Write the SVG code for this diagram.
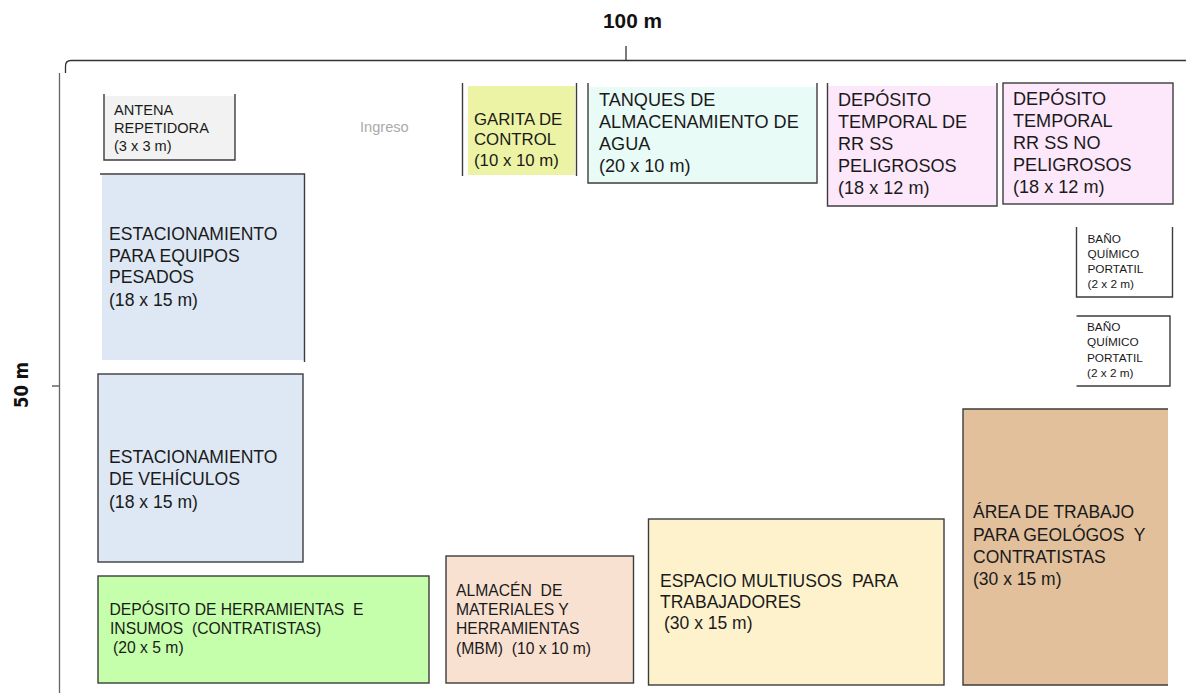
<svg xmlns="http://www.w3.org/2000/svg" width="1186" height="693" viewBox="0 0 1186 693">
<style>
text{font-family:"Liberation Sans",Arial,sans-serif;fill:#1a1a1a;white-space:pre}
.b{fill:none;stroke:#3c3c3c;stroke-width:1.4}
.xl{font-size:18.1px}
.l{font-size:17.6px}
.k{font-size:17.5px}
.m{font-size:15.7px}
.s{font-size:14.6px}
.t{font-size:11.8px}
.dim{fill:none;stroke:#333;stroke-width:1.3}
</style>
<rect width="1186" height="693" fill="#fff"/>
<g id="connectors">
<path class="dim" d="M65.5 73V66Q65.500 60.500 71 60.500H1186"/>
<path class="dim" d="M626 46V60"/>
<path class="dim" style="stroke:#666" d="M59.500 73V693M52 386H59"/>
</g>
<g id="dim-100"><text x="603" y="28" style="font-weight:bold;font-size:20px;fill:#111" textLength="59" lengthAdjust="spacingAndGlyphs">100 m</text></g>
<g id="dim-50"><text transform="translate(28 408) rotate(-90)" style="font-family:'DejaVu Sans',sans-serif;font-weight:bold;font-size:20px;fill:#111" textLength="46" lengthAdjust="spacingAndGlyphs">50 m</text></g>
<g id="antena">
<rect x="104" y="96" width="131" height="64" fill="#f2f2f2"/>
<path class="b" d="M104 94V160H235V94"/>
<text class="s"><tspan x="114" y="115">ANTENA</tspan><tspan x="114" y="133">REPETIDORA</tspan><tspan x="114" y="151">(3 x 3 m)</tspan></text>
</g>
<g id="ingreso"><text class="s" x="360" y="132" style="fill:#aaa">Ingreso</text></g>
<g id="garita">
<rect x="468" y="86" width="107" height="89" fill="#edf3a4"/>
<path class="b" d="M462.500 83V176M576.500 83V176"/>
<text style="font-size:16.800px"><tspan x="474" y="125">GARITA DE</tspan><tspan x="474" y="145">CONTROL</tspan><tspan x="474" y="166">(10 x 10 m)</tspan></text>
</g>
<g id="tanques">
<rect x="589" y="87" width="227" height="95" fill="#e8fbf6"/>
<path class="b" d="M588 83V183H817V83"/>
<text class="xl"><tspan x="599" y="106">TANQUES DE</tspan><tspan x="599" y="128">ALMACENAMIENTO DE</tspan><tspan x="599" y="150">AGUA</tspan><tspan x="599" y="172">(20 x 10 m)</tspan></text>
</g>
<g id="deposito-peligrosos">
<rect x="828" y="86" width="168" height="119" fill="#fde7fb"/>
<path class="b" d="M827.500 83V206H997V83"/>
<text class="xl"><tspan x="838" y="106">DEPÓSITO</tspan><tspan x="838" y="128">TEMPORAL DE</tspan><tspan x="838" y="150">RR SS</tspan><tspan x="838" y="172">PELIGROSOS</tspan><tspan x="838" y="194">(18 x 12 m)</tspan></text>
</g>
<g id="deposito-no-peligrosos">
<rect x="1003" y="83" width="170" height="121" class="b" style="fill:#fde7fb"/>
<text class="xl"><tspan x="1013" y="105">DEPÓSITO</tspan><tspan x="1013" y="127">TEMPORAL</tspan><tspan x="1013" y="149">RR SS NO</tspan><tspan x="1013" y="171">PELIGROSOS</tspan><tspan x="1013" y="193">(18 x 12 m)</tspan></text>
</g>
<g id="bano-1">
<path class="b" d="M1076.500 227V297H1172.500V227"/>
<text class="t"><tspan x="1087.500" y="243">BAÑO</tspan><tspan x="1087.500" y="258">QUÍMICO</tspan><tspan x="1087.500" y="273">PORTATIL</tspan><tspan x="1087.500" y="288">(2 x 2 m)</tspan></text>
</g>
<g id="bano-2">
<path class="b" d="M1076.500 316H1170V386H1076.500"/>
<text class="t"><tspan x="1087" y="331">BAÑO</tspan><tspan x="1087" y="346">QUÍMICO</tspan><tspan x="1087" y="362">PORTATIL</tspan><tspan x="1087" y="377">(2 x 2 m)</tspan></text>
</g>
<g id="estacionamiento-equipos">
<rect x="102" y="175" width="202" height="185" fill="#dde8f4"/>
<path class="b" d="M100 174H304.500V362"/>
<text class="l"><tspan x="109" y="240">ESTACIONAMIENTO</tspan><tspan x="109" y="262">PARA EQUIPOS</tspan><tspan x="109" y="283">PESADOS</tspan><tspan x="109" y="306">(18 x 15 m)</tspan></text>
</g>
<g id="estacionamiento-vehiculos">
<rect x="98" y="374" width="205" height="188" class="b" style="fill:#dde8f4"/>
<text class="l"><tspan x="109" y="463">ESTACIONAMIENTO</tspan><tspan x="109" y="485">DE VEHÍCULOS</tspan><tspan x="109" y="508">(18 x 15 m)</tspan></text>
</g>
<g id="deposito-herramientas">
<rect x="98" y="576" width="331" height="107" class="b" style="fill:#c6ffab"/>
<text class="m"><tspan x="109.500" y="615">DEPÓSITO DE HERRAMIENTAS  E</tspan><tspan x="110" y="634">INSUMOS  (CONTRATISTAS)</tspan><tspan x="113" y="653">(20 x 5 m)</tspan></text>
</g>
<g id="almacen">
<rect x="446" y="556" width="187.500" height="127" class="b" style="fill:#f9e1d2"/>
<text class="m"><tspan x="456" y="596">ALMACÉN  DE</tspan><tspan x="456" y="615">MATERIALES Y</tspan><tspan x="456" y="634">HERRAMIENTAS</tspan><tspan x="456" y="654">(MBM)  (10 x 10 m)</tspan></text>
</g>
<g id="multiusos">
<rect x="648.500" y="519" width="295.500" height="166" class="b" style="fill:#fef2cd"/>
<text class="k"><tspan x="660" y="587">ESPACIO MULTIUSOS  PARA</tspan><tspan x="660" y="608">TRABAJADORES</tspan><tspan x="664" y="629">(30 x 15 m)</tspan></text>
</g>
<g id="area-trabajo">
<rect x="963" y="409" width="205" height="276" fill="#e2c09c"/>
<path class="b" d="M1168 409H963V685H1168"/>
<text class="k"><tspan x="973" y="518">ÁREA DE TRABAJO</tspan><tspan x="973" y="541">PARA GEOLÓGOS  Y</tspan><tspan x="973" y="563">CONTRATISTAS</tspan><tspan x="973" y="585">(30 x 15 m)</tspan></text>
</g>
</svg>
